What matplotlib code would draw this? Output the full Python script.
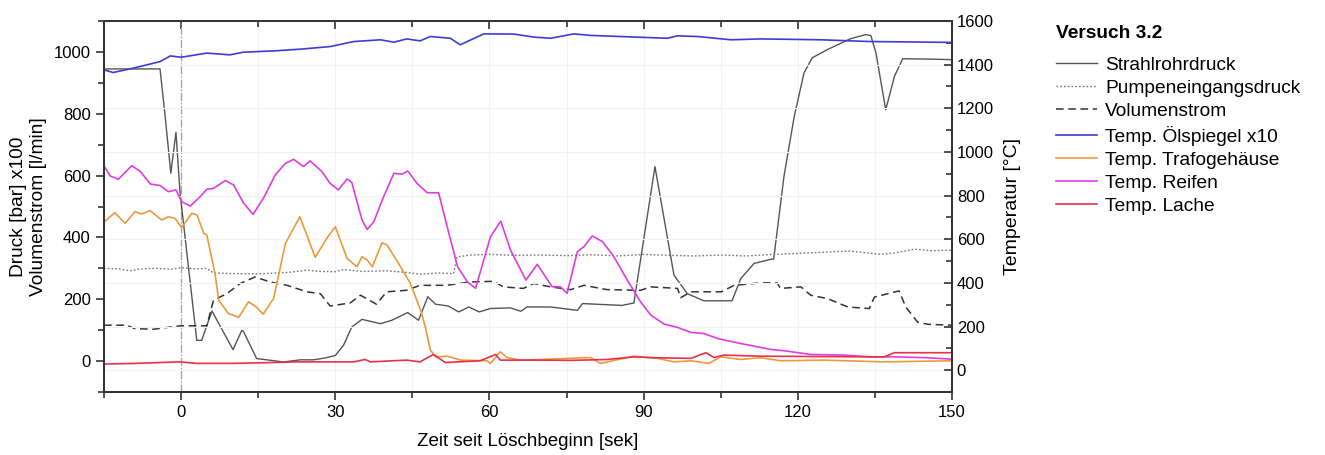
import matplotlib
matplotlib.use("Agg")
import matplotlib.pyplot as plt
from matplotlib.ticker import MultipleLocator

plt.rcParams['font.family'] = ['Liberation Sans', 'DejaVu Sans']

# Strahlrohrdruck (bar x100)
t_strahl = [-15, -4.1, -3.1, -2.0, -1.0, -0.2, 3.05, 4.0, 6.0, 10.1, 11.8, 12.1, 14.7, 16.7, 19.9,
            23.2, 25.8, 28, 30, 31.6, 33.2, 35.2, 38.8, 41, 44.1, 46.2, 48, 49.5, 52, 54, 56, 58,
            60.2, 64.1, 66.1, 67.3, 71.9, 77.1, 78.1, 85.8, 88.1, 92.2, 95.9, 98.5, 101.7, 107.2,
            108.9, 111.5, 114.7, 115.3, 117.3, 119.3, 121.2, 122.8, 125.8, 130.3, 133.2, 134.2,
            135.2, 137.1, 138.8, 140.4, 145.3, 150]
v_strahl = [945, 945, 791, 608, 740, 543, 67, 67, 162, 37, 99, 97, 8, 4, -3,
            4, 4, 10, 18, 51, 110, 135, 121, 132, 157, 132, 208, 184, 178, 159, 175, 159,
            170, 172, 161, 175, 175, 164, 186, 180, 188, 629, 278, 218, 195, 195,
            267, 316, 329, 330, 597, 791, 932, 981, 1008, 1043, 1056, 1053,
            997, 813, 921, 978, 977, 975]

# Pumpeneingangsdruck (bar x100)
t_pumpe = [-15, -12, -10, -8, -5, -2, 0, 3, 5, 6.3, 10, 15, 18.6, 21, 24.5, 27, 30, 31.6, 35, 40,
           43, 46.5, 50, 53, 53.7, 56.3, 60, 65, 70, 75, 80, 85, 90, 95, 100, 105, 110, 115, 120,
           125, 130, 136.2, 139, 142.7, 146, 150]
v_pumpe = [300, 298, 292, 298, 300, 297, 302, 298, 300, 285, 283, 282, 285, 287, 294, 290, 289, 296,
           290, 292, 288, 281, 285, 283, 337, 343, 345, 342, 343, 341, 344, 340, 345, 342, 340, 343,
           340, 345, 348, 352, 356, 345, 350, 362, 357, 359]

# Volumenstrom (l/min)
t_vol = [-15, -10.6, -9, -5.4, -0.2, 5, 6.3, 8.9, 11.5, 14.4, 17.3, 20.6, 24.5, 27.1, 29, 32.9, 34.9,
         38, 40, 43.9, 46.5, 51.6, 56.3, 60.8, 62.7, 66.6, 68.6, 71.9, 75.8, 78.4, 82.9, 89.4, 91.4,
         96.6, 97.2, 99.2, 105.1, 107.6, 112.8, 116, 116.6, 120.6, 122.5, 125.8, 129.7, 133.9,
         134.9, 139.7, 141, 143.3, 145.3, 150]
v_vol = [116, 116, 105, 103, 114, 114, 197, 218, 251, 272, 256, 245, 224, 218, 178, 188, 213,
         184, 224, 229, 245, 245, 256, 258, 240, 235, 251, 240, 231, 245, 231, 229, 240,
         235, 205, 224, 224, 245, 253, 253, 235, 240, 213, 202, 175, 170,
         207, 227, 175, 126, 119, 116]

# Temp. Ölspiegel x10 (°C)
t_oel = [-15, -13.2, -9.3, -4.1, -2.1, 0, 5, 9.5, 12.1, 18, 23.2, 29, 33.6, 38.8, 41.4, 43.9, 46.5,
         48.5, 52.4, 54.3, 58.9, 64.8, 68.7, 71.9, 76.4, 79.7, 94.6, 96.6, 100.5, 107, 112.8,
         124.5, 134, 150]
v_oel = [1376, 1364, 1384, 1414, 1440, 1434, 1453, 1445, 1457, 1463, 1471, 1483, 1506, 1514, 1503,
         1518, 1509, 1529, 1521, 1491, 1541, 1540, 1526, 1521, 1541, 1534, 1521, 1532, 1529, 1514,
         1518, 1514, 1506, 1502]

# Temp. Trafogehäuse (°C)
t_trafo = [-15.1, -12.9, -10.9, -9, -7.7, -6, -3.8, -2.5, -1.2, 0.1, 2.1, 3.1, 4.4, 5, 6.6, 7.3, 9.2,
           11.2, 13.1, 14.4, 16, 18, 20.3, 23.1, 26.1, 28.5, 30, 32.3, 34.2, 35.2, 36.2, 37.2, 39.1,
           40.1, 42.7, 44.6, 46.6, 47.5, 48.5, 49.5, 51.8, 54.4, 59.5, 60.2, 62.1, 63.4, 66, 69.9,
           79.7, 81.6, 88.1, 92.7, 95.9, 99.2, 102.7, 105, 108.9, 112.8, 116.7, 125, 136.8, 150]
v_trafo = [676, 722, 673, 726, 716, 731, 688, 703, 696, 654, 719, 711, 627, 619, 443, 321, 260,
           242, 313, 294, 257, 329, 581, 703, 517, 610, 657, 512, 474, 520, 505, 474, 584,
           573, 474, 398, 275, 199, 92, 61, 64, 46, 43, 31, 84, 58, 46, 49,
           58, 31, 64, 54, 38, 43, 31, 61, 49, 57, 43, 46, 38, 43]

# Temp. Reifen (°C)
t_reifen = [-15.1, -13.8, -12.2, -9.6, -7.9, -6, -4.1, -2.5, -1, 0.1, 1.8, 3.7, 5, 6.3, 8.6, 10.2,
            12.1, 14, 16, 18.3, 20.3, 21.9, 23.8, 25.1, 27.4, 29, 30.6, 32.3, 33.2, 35.2, 36.2,
            37.5, 39.4, 41.4, 43, 44.1, 45.9, 47.9, 50.1, 52.1, 53.8, 55.7, 57.3, 60.2, 62.2,
            64.1, 67.1, 69.3, 72.2, 73.8, 75.1, 77.1, 78.4, 80, 82, 84.2, 86.8, 89.4, 91.4, 94,
            96.6, 99.2, 101.7, 104.4, 108.9, 114.7, 117.3, 122.5, 129, 134.2, 138.8, 145.3, 150]
v_reifen = [940, 890, 875, 937, 910, 853, 846, 818, 826, 772, 752, 795, 829, 833, 869, 849,
            768, 714, 787, 894, 948, 966, 933, 959, 910, 856, 826, 876, 861, 688, 645,
            680, 795, 902, 898, 913, 856, 813, 813, 627, 474, 405, 375, 612, 683,
            550, 413, 485, 382, 382, 352, 543, 566, 615, 589, 520, 413, 313, 252, 211,
            196, 173, 168, 145, 122, 95, 89, 72, 69, 61, 61, 57, 50]

# Temp. Lache (°C)
t_lache = [-15, -9, -0.2, 3, 10, 16, 23, 29, 33.6, 35.8, 36.8, 43.9, 46.5, 49.1, 51.4, 58.2, 61.2,
           62.1, 70, 76, 82.9, 88.1, 92, 99.2, 102.1, 103.7, 105.6, 112.8, 134.2, 136.8, 138.8, 150]
v_lache = [28, 31, 38, 31, 31, 34, 38, 38, 38, 49, 38, 46, 38, 72, 35, 43, 72,
           46, 46, 45, 49, 61, 57, 54, 80, 58, 69, 64, 61, 61, 80, 80]

fig = plt.figure(figsize=(13.25, 4.55), dpi=100)
ax = fig.add_axes([0.0785, 0.1385, 0.64, 0.8153])
ax2 = ax.twinx()

# Gitter und Startlinie
for xv in range(-15, 151, 15):
    ax.axvline(xv, color='#f2f2f2', lw=0.8, zorder=0)
for yv in range(0, 1601, 200):
    ax2.axhline(yv, color='#f2f2f2', lw=0.8, zorder=0)
ax.axvline(0, color='#a0a0a0', lw=0.9, ls='-.', zorder=1)

h1, = ax.plot(t_strahl, v_strahl, color='#555555', lw=1.0, label='Strahlrohrdruck')
h2, = ax.plot(t_pumpe, v_pumpe, color='#777777', lw=1.0, ls=(0, (1.2, 1.5)), label='Pumpeneingangsdruck')
h3, = ax.plot(t_vol, v_vol, color='#333333', lw=1.1, ls=(0, (5, 3)), label='Volumenstrom')
h4, = ax2.plot(t_oel, v_oel, color='#3d3dd6', lw=1.2, label='Temp. Ölspiegel x10')
h5, = ax2.plot(t_trafo, v_trafo, color='#ec9a3c', lw=1.2, label='Temp. Trafogehäuse')
h6, = ax2.plot(t_reifen, v_reifen, color='#e03de0', lw=1.2, label='Temp. Reifen')
h7, = ax2.plot(t_lache, v_lache, color='#e8304a', lw=1.2, label='Temp. Lache')

ax.set_xlim(-15, 150)
ax.set_ylim(-100, 1100)
ax2.set_ylim(-100, 1600)

ax.set_xticks([0, 30, 60, 90, 120, 150])
ax.xaxis.set_minor_locator(MultipleLocator(15))
ax.set_yticks([0, 200, 400, 600, 800, 1000])
ax.yaxis.set_minor_locator(MultipleLocator(100))
ax2.set_yticks(range(0, 1601, 200))
ax2.yaxis.set_minor_locator(MultipleLocator(100))

ax.tick_params(axis='both', which='major', labelsize=12, length=6, width=1.2, color='#333333')
ax.tick_params(axis='both', which='minor', length=4, width=1.2, color='#333333')
ax2.tick_params(axis='y', which='major', direction='in', labelsize=12, length=6, width=1.2, color='#333333')
ax2.tick_params(axis='y', which='minor', direction='in', length=4, width=1.2, color='#333333')

# obere Achse: Ticks nach innen, ohne Beschriftung
top = ax.secondary_xaxis('top')
top.set_xticks([0, 30, 60, 90, 120, 150])
top.xaxis.set_minor_locator(MultipleLocator(15))
top.tick_params(which='major', direction='in', length=6, width=1.2, color='#333333', labeltop=False)
top.tick_params(which='minor', direction='in', length=4, width=1.2, color='#333333')
top.spines['top'].set_linewidth(1.4)
top.spines['top'].set_color('#333333')

for a in (ax, ax2):
    for sp in a.spines.values():
        sp.set_linewidth(1.4)
        sp.set_color('#333333')

ax.set_xlabel('Zeit seit Löschbeginn [sek]', fontsize=13.5, labelpad=9)
ax.set_ylabel('Druck [bar] x100\nVolumenstrom [l/min]', fontsize=13.8, labelpad=5, linespacing=1.2)
ax2.set_ylabel('Temperatur [°C]', fontsize=14, labelpad=7)

fig.text(1056 / 1325, 1 - 34 / 455, 'Versuch 3.2', fontsize=13.75, fontweight='bold',
         ha='left', va='center')
leg = fig.legend(handles=[h1, h2, h3, h4, h5, h6, h7], loc='upper left',
                 bbox_to_anchor=(0.790, 0.897), frameon=False, fontsize=13.75, borderpad=0,
                 handlelength=2.15, handletextpad=0.42, labelspacing=0.3)

fig.savefig('out.png', dpi=100)
